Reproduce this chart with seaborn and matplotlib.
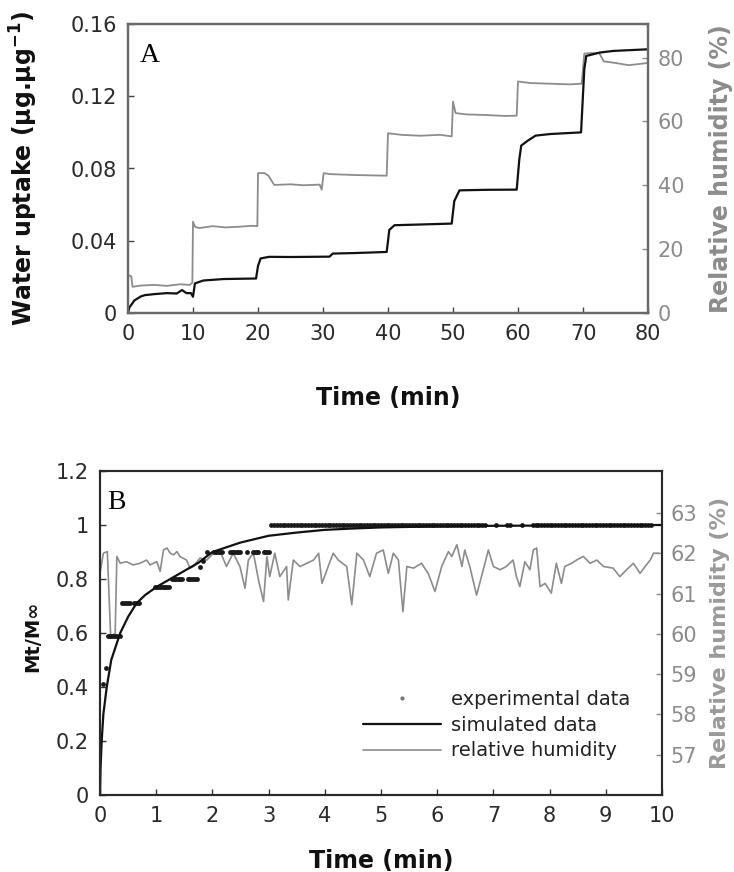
import matplotlib
matplotlib.use("Agg")
import numpy as np
import pandas as pd
import seaborn as sns
import matplotlib.pyplot as plt
from matplotlib.lines import Line2D

# ---------------- Panel A data ----------------
uptake_t = [0, 0.2, 1, 2, 2.6, 4.2, 6, 7.5, 8.3, 9, 9.7, 10.0, 10.3, 11.6, 14.7, 19.7, 20.0, 20.4, 21.7, 25,
            31, 31.5, 35, 39.8, 40.2, 41, 45, 49.8, 50.2, 51, 55, 59.8, 60.2, 60.5, 61.5, 62.7, 65, 69.7, 70.2,
            70.5, 72.6, 74.7, 80]
uptake_v = [0, 0.003, 0.007, 0.0092, 0.0099, 0.0105, 0.011, 0.0108, 0.0127, 0.011, 0.011, 0.009, 0.0164,
            0.018, 0.0188, 0.0191, 0.0260, 0.0302, 0.0311, 0.031, 0.0312, 0.0329, 0.0332, 0.0338, 0.046,
            0.0486, 0.0490, 0.0495, 0.062, 0.0679, 0.0682, 0.0683, 0.085, 0.0927, 0.0954, 0.0982, 0.0991,
            0.100, 0.135, 0.1423, 0.1442, 0.1451, 0.146]

rhA_t = [0, 0.5, 0.7, 2, 4, 6, 8, 9.5, 9.9, 10.0, 10.3, 11, 13, 15, 17, 19, 19.9, 20.0, 21.0, 21.6,
         22.5, 25, 27, 29.5, 29.8, 30.1, 31, 35, 39.8, 40.0, 42, 45, 48, 49.8, 50.0, 50.4, 52, 55, 58, 59.8,
         60.0, 62, 65, 68, 69.8, 70.2, 71, 72.5, 73.2, 75, 77, 80]
rhA_v = [11.9, 11.5, 8.2, 8.6, 8.8, 8.5, 9.0, 8.8, 9.5, 28.6, 27.0, 26.6, 27.2, 26.8, 27.0, 27.3, 27.2,
         43.8, 43.8, 43.0, 40.1, 40.3, 40.0, 40.2, 38.6, 43.8, 43.5, 43.2, 43.0, 56.3, 55.8, 55.5, 55.8,
         55.3, 66.2, 62.6, 62.2, 62.0, 61.7, 61.8, 72.5, 72.0, 71.8, 71.6, 71.8, 81.2, 81.4, 81.4, 78.8,
         78.3, 77.6, 78.3]

A_xticks = [0, 10, 20, 30, 40, 50, 60, 70, 80]
A_yticks = [0, 0.04, 0.08, 0.12, 0.16]
A_ylabels = ["0", "0.04", "0.08", "0.12", "0.16"]
A_rticks = [0, 20, 40, 60, 80]

# ---------------- Panel B data ----------------
exp_levels = [0.41, 0.47, 0.59, 0.71, 0.77, 0.80, 0.845, 0.865, 0.90, 1.0]
exp_times = [
    [0.06],
    [0.10],
    [0.14, 0.17, 0.20, 0.23, 0.26, 0.31, 0.35],
    [0.40, 0.43, 0.46, 0.49, 0.53, 0.61, 0.64, 0.67, 0.70],
    [0.98, 1.01, 1.04, 1.07, 1.10, 1.13, 1.16, 1.19, 1.22],
    [1.28, 1.31, 1.34, 1.37, 1.40, 1.43, 1.46, 1.56, 1.59, 1.62, 1.65, 1.69, 1.72],
    [1.78],
    [1.84],
    [1.90, 2.02, 2.05, 2.08, 2.11, 2.14, 2.17, 2.31, 2.34, 2.37, 2.40, 2.43, 2.46, 2.49, 2.61, 2.73,
     2.76, 2.79, 2.82, 2.91, 2.94, 2.97, 3.0],
    [3.05, 3.1, 3.15, 3.2, 3.25, 3.3, 3.35, 3.4, 3.45, 3.5, 3.55, 3.6, 3.65, 3.7, 3.75, 3.8, 3.85, 3.9,
     3.95, 4.0, 4.05, 4.1, 4.15, 4.2, 4.25, 4.3, 4.35, 4.4, 4.45, 4.5, 4.55, 4.6, 4.65, 4.7, 4.75, 4.8,
     4.85, 4.9, 4.95, 5.0, 5.05, 5.1, 5.15, 5.2, 5.25, 5.3, 5.35, 5.4, 5.45, 5.5, 5.55, 5.6, 5.65, 5.7,
     5.75, 5.8, 5.85, 5.9, 5.95, 6.0, 6.05, 6.1, 6.15, 6.2, 6.25, 6.3, 6.35, 6.4, 6.45, 6.5, 6.55, 6.6,
     6.65, 6.7, 6.75, 6.8, 6.85, 7.05, 7.25, 7.3, 7.5, 7.7, 7.75, 7.8, 7.85, 7.9, 7.95, 8.0, 8.05, 8.1,
     8.15, 8.2, 8.25, 8.3, 8.35, 8.4, 8.45, 8.5, 8.55, 8.6, 8.65, 8.7, 8.75, 8.8, 8.85, 8.9, 8.95, 9.0,
     9.05, 9.1, 9.15, 9.2, 9.25, 9.3, 9.35, 9.4, 9.45, 9.5, 9.55, 9.6, 9.65, 9.7, 9.75, 9.8],
]

sim_t = [0, 0.01, 0.03, 0.06, 0.12, 0.2, 0.36, 0.5, 0.65, 0.8, 1.0, 1.25, 1.5, 1.75, 2.0, 2.5, 3.0,
         3.5, 4.0, 4.5, 5.0, 6.0, 7.0, 8.0, 9.0, 10.0]
sim_v = [0, 0.1, 0.2, 0.3, 0.4, 0.5, 0.6, 0.66, 0.71, 0.74, 0.77, 0.80, 0.83, 0.86, 0.90, 0.935, 0.96,
         0.972, 0.982, 0.987, 0.991, 0.995, 0.997, 0.998, 0.999, 1.0]

rhB_t = [0, 0.06, 0.13, 0.19, 0.27, 0.3, 0.36, 0.47, 0.59, 0.71, 0.83, 0.89, 1.01, 1.07, 1.13, 1.19,
         1.25, 1.31, 1.37, 1.42, 1.54, 1.6, 1.66, 1.78, 1.9, 2.02, 2.14, 2.25, 2.37, 2.49, 2.58, 2.64,
         2.73, 2.82, 2.91, 2.97, 3.02, 3.11, 3.2, 3.32, 3.35, 3.44, 3.56, 3.68, 3.8, 3.89, 3.95, 4.06,
         4.15, 4.24, 4.39, 4.48, 4.57, 4.69, 4.8, 4.92, 5.04, 5.13, 5.22, 5.31, 5.39, 5.46, 5.58, 5.72,
         5.84, 5.96, 6.08, 6.2, 6.26, 6.35, 6.44, 6.49, 6.58, 6.7, 6.82, 6.91, 7.0, 7.12, 7.23, 7.35,
         7.41, 7.47, 7.56, 7.65, 7.71, 7.77, 7.83, 7.92, 8.03, 8.12, 8.21, 8.27, 8.39, 8.48, 8.6, 8.72,
         8.84, 8.96, 9.13, 9.25, 9.37, 9.49, 9.61, 9.7, 9.79, 9.85, 9.94]
rhB_v = [61.5, 62.0, 62.04, 59.93, 60.01, 61.92, 61.75, 61.79, 61.71, 61.75, 61.83, 61.71, 61.79, 61.55,
         62.08, 62.13, 62.0, 61.96, 62.04, 61.92, 61.83, 61.63, 61.67, 61.88, 61.83, 62.0, 62.04, 61.67,
         62.0, 61.67, 61.13, 61.83, 62.0, 61.34, 60.80, 61.92, 61.42, 62.0, 61.42, 61.67, 60.84, 61.83,
         61.67, 61.75, 61.83, 62.0, 61.25, 61.67, 62.0, 61.83, 61.67, 60.72, 62.0, 61.83, 61.42, 62.0,
         62.08, 61.5, 62.0, 61.83, 60.55, 61.67, 61.63, 61.75, 61.5, 61.05, 61.67, 62.04, 61.92, 62.21,
         61.67, 62.08, 61.67, 60.96, 61.59, 62.08, 61.67, 61.59, 61.67, 61.83, 61.42, 61.17, 61.79, 61.59,
         62.08, 62.13, 61.17, 61.25, 61.01, 61.75, 61.25, 61.67, 61.75, 61.83, 61.92, 61.75, 61.83, 61.67,
         61.63, 61.42, 61.59, 61.75, 61.5, 61.67, 61.83, 62.0, 62.0]

B_xticks = [0, 1, 2, 3, 4, 5, 6, 7, 8, 9, 10]
B_yticks = [0, 0.2, 0.4, 0.6, 0.8, 1.0, 1.2]
B_ylabels = ["0", "0.2", "0.4", "0.6", "0.8", "1", "1.2"]
B_rticks = [57, 58, 59, 60, 61, 62, 63]
legend_labels = ["experimental data", "simulated data", "relative humidity"]

# ---------------- styling ----------------
sns.set_style("ticks")
plt.rcParams["font.family"] = ["DejaVu Sans"]

BLACK = "#111111"
GRAY = "#8c8c8c"
TICKDARK = "#2a2a2a"

fig = plt.figure(figsize=(7.34, 8.72), dpi=100)
W, H = 734, 872
axA = fig.add_axes([128 / W, 1 - 313 / H, 520 / W, 289 / H])
axA2 = axA.twinx()
axB = fig.add_axes([100 / W, 1 - 795 / H, 562 / W, 324 / H])
axB2 = axB.twinx()

dfA = pd.DataFrame({"t": uptake_t, "v": uptake_v})
dfA_rh = pd.DataFrame({"t": rhA_t, "rh": rhA_v})
sns.lineplot(data=dfA_rh, x="t", y="rh", ax=axA2, estimator=None, sort=False, color=GRAY, lw=1.3)
sns.lineplot(data=dfA, x="t", y="v", ax=axA, estimator=None, sort=False, color=BLACK, lw=1.6)

dfE = pd.DataFrame({"t": [t for ts in exp_times for t in ts],
                    "v": [lv for lv, ts in zip(exp_levels, exp_times) for _ in ts]})
dfS = pd.DataFrame({"t": sim_t, "v": sim_v})
dfB_rh = pd.DataFrame({"t": rhB_t, "rh": rhB_v})
sns.lineplot(data=dfB_rh, x="t", y="rh", ax=axB2, estimator=None, sort=False, color=GRAY, lw=1.2)
sns.lineplot(data=dfS, x="t", y="v", ax=axB, estimator=None, sort=False, color=BLACK, lw=1.6)
sns.scatterplot(data=dfE, x="t", y="v", ax=axB, color="#1a1a1a", s=12, marker="o", linewidth=0)

# primary axes on top of twins
for ax, ax2 in ((axA, axA2), (axB, axB2)):
    ax.set_zorder(ax2.get_zorder() + 1)
    ax.patch.set_visible(False)

# ---- Panel A axes ----
axA.set_xlim(0, 80)
axA.set_ylim(0, 0.16)
axA2.set_ylim(0, 90.5)
axA.set_xticks(A_xticks)
axA.set_xticklabels([str(x) for x in A_xticks])
axA.set_yticks(A_yticks)
axA.set_yticklabels(A_ylabels)
axA2.set_yticks(A_rticks)
axA2.set_yticklabels([str(x) for x in A_rticks])
for ax in (axA, axA2):
    for s in ax.spines.values():
        s.set_color("#6a6a6a")
        s.set_linewidth(1.6)
        s.set_visible(True)
axA.tick_params(axis="both", direction="in", length=4, width=1, color="#444444",
                labelsize=15, labelcolor=TICKDARK, pad=8)
axA2.tick_params(axis="y", direction="in", length=4, width=1, color=GRAY,
                 labelsize=15, labelcolor=GRAY, pad=7)

axA.set_xlabel("Time (min)", fontsize=17, fontweight="bold", color=BLACK)
axA.xaxis.set_label_coords(0.5, -0.295)
axA.xaxis.label.set_verticalalignment("center")
axA.set_ylabel("Water uptake (µg.µg$^{\\mathbf{-1}}$)", fontsize=17, fontweight="bold", color=BLACK)
axA.yaxis.set_label_coords(-0.2, 0.5)
axA.yaxis.label.set_verticalalignment("center")
axA2.set_ylabel("Relative humidity (%)", fontsize=17, fontweight="bold", color=GRAY)
axA2.yaxis.set_label_coords(1.14, 0.5)
axA2.yaxis.label.set_verticalalignment("center")
axA.text(0.023, 0.868, "A", transform=axA.transAxes, fontsize=20,
         family=["Liberation Serif", "DejaVu Serif"], color="black", ha="left", va="baseline")

# ---- Panel B axes ----
axB.set_xlim(0, 10)
axB.set_ylim(0, 1.2)
axB2.set_ylim(56, 64.04)
axB.set_xticks(B_xticks)
axB.set_xticklabels([str(x) for x in B_xticks])
axB.set_yticks(B_yticks)
axB.set_yticklabels(B_ylabels)
axB2.set_yticks(B_rticks)
axB2.set_yticklabels([str(x) for x in B_rticks])
for ax in (axB, axB2):
    for s in ax.spines.values():
        s.set_color("#2a2a2a")
        s.set_linewidth(1.5)
        s.set_visible(True)
axB2.spines["right"].set_color("#666666")
axB.tick_params(axis="both", direction="in", length=4, width=1, color="#333333",
                labelsize=15, labelcolor=TICKDARK, pad=8)
axB2.tick_params(axis="y", direction="in", length=4, width=1, color=GRAY,
                 labelsize=15, labelcolor=GRAY, pad=6)

axB.set_xlabel("Time (min)", fontsize=17, fontweight="bold", color=BLACK)
axB.xaxis.set_label_coords(0.5, -0.205)
axB.xaxis.label.set_verticalalignment("center")
axB.set_ylabel("Mt/M∞", fontsize=14, fontweight="bold", color=BLACK)
axB.yaxis.set_label_coords(-0.119, 0.49)
axB.yaxis.label.set_verticalalignment("center")
axB2.set_ylabel("Relative humidity (%)", fontsize=16, fontweight="bold", color="#9a9a9a")
axB2.yaxis.set_label_coords(1.103, 0.5)
axB2.yaxis.label.set_verticalalignment("center")
axB.text(0.012, 0.883, "B", transform=axB.transAxes, fontsize=20,
         family=["Liberation Serif", "DejaVu Serif"], color="black", ha="left", va="baseline")

handles = [
    Line2D([], [], ls="", marker="o", ms=3, color="#777777", mec="none"),
    Line2D([], [], color=BLACK, lw=1.6),
    Line2D([], [], color=GRAY, lw=1.2),
]
leg = axB.legend(handles, legend_labels, loc="center left", bbox_to_anchor=(0.468, 0.216),
                 frameon=False, fontsize=14, handlelength=4.0, handletextpad=0.5,
                 labelspacing=0.35, borderpad=0, borderaxespad=0)
for t in leg.get_texts():
    t.set_color("#222222")

fig.savefig("out.png", dpi=100)
